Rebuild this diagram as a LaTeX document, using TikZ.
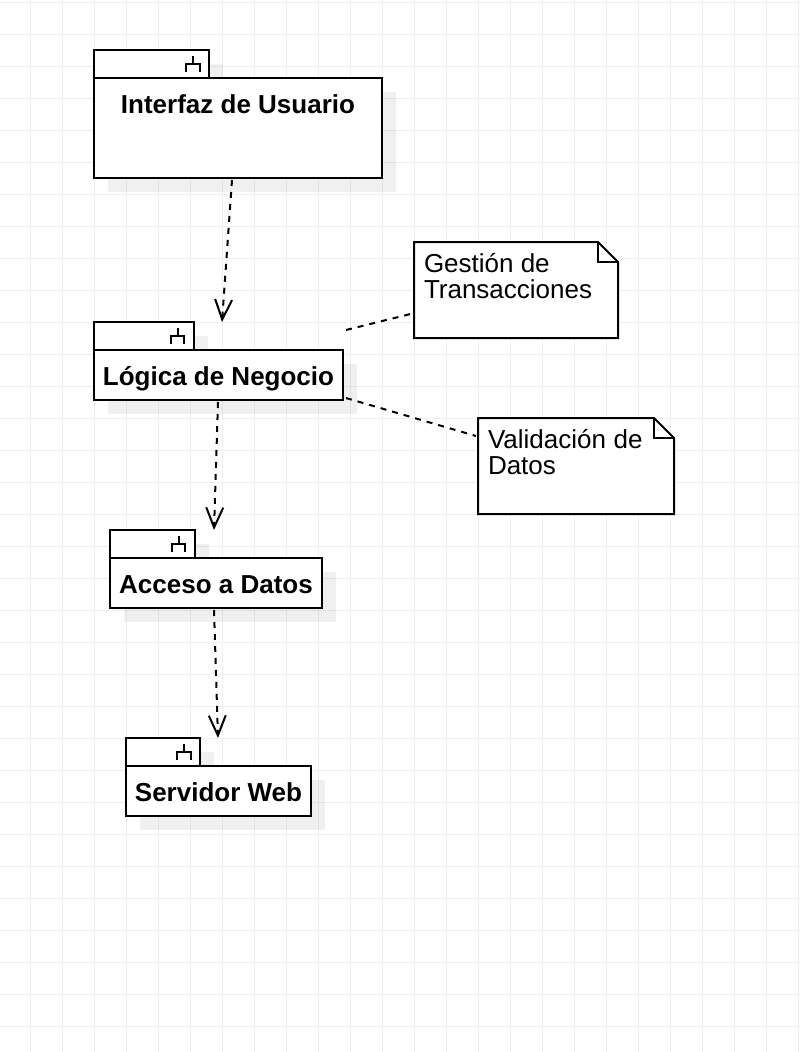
\documentclass[tikz,border=0pt]{standalone}
\usepackage{fontspec}
\setmainfont{Liberation Sans}
\usetikzlibrary{arrows.meta}
\pgfdeclarelayer{gridlayer}
\pgfdeclarelayer{notelayer}
\pgfsetlayers{gridlayer,notelayer,main}
\definecolor{gridgray}{RGB}{240,240,240}
\tikzset{
  gridline/.style={draw=gridgray,line width=1pt},
  tabbox/.style={draw=black,fill=white,line width=2pt,inner sep=0pt,outer sep=0pt,anchor=north west,minimum height=28pt},
  bodybox/.style={draw=black,fill=white,line width=2pt,inner sep=0pt,outer sep=0pt,anchor=north west,
    font=\fontsize{26}{26}\selectfont\bfseries,text height=35pt},
  pkgshadow/.style={fill=black,fill opacity=0.06},
  pkgicon/.style={draw=black,line width=2pt},
  notetext/.style={inner sep=0pt,inner xsep=10pt,outer sep=0pt,anchor=north west,align=left,
    font=\fontsize{26}{26}\selectfont},
  noteline/.style={draw=black,line width=2pt,miter limit=10},
  depends/.style={draw=black,line width=2pt,dash pattern=on 6pt off 6pt,
    -{Straight Barb[length=20pt,width=17pt,line width=2pt]}},
  noteconn/.style={draw=black,line width=2pt,dash pattern=on 6pt off 6pt},
}
\newcommand{\pkgbox}[8]{%
  % #1 name, #2 x, #3 y of tab top, #4 tab width, #5 body width, #6 body height, #7 text depth, #8 text
  \node[tabbox,minimum width=#4pt] (#1tab) at (#2,#3) {};
  \node[bodybox,minimum width=#5pt,minimum height=#6pt,text depth=#7pt] (#1) at (#2,#3+28) {#8};
  \begin{pgfonlayer}{notelayer}
    \fill[pkgshadow] ([shift={(14,14)}]#1tab.north west) rectangle ([shift={(14,0)}]#1tab.south east);
    \fill[pkgshadow] ([shift={(14,14)}]#1.north west) rectangle ([shift={(14,14)}]#1.south east);
  \end{pgfonlayer}
  \draw[pkgicon] ([shift={(-22.7,21.7)}]#1tab.north east) -- ([shift={(-22.7,14)}]#1tab.north east) -- ([shift={(-9.3,14)}]#1tab.north east) -- ([shift={(-9.3,21.7)}]#1tab.north east);
  \draw[pkgicon] ([shift={(-16,14)}]#1tab.north east) -- ([shift={(-16,6.3)}]#1tab.north east);
}
\newcommand{\notebox}[1]{%
  \begin{pgfonlayer}{notelayer}
    \path[noteline,fill=white] (#1.north west) -- ([shift={(-20,0)}]#1.north east) -- ([shift={(0,20)}]#1.north east) -- (#1.south east) -- (#1.south west) -- cycle;
  \end{pgfonlayer}
  \draw[noteline] ([shift={(-20,0)}]#1.north east) -- ([shift={(-20,20)}]#1.north east) -- ([shift={(0,20)}]#1.north east);
}
\begin{document}
\begin{tikzpicture}[x=1pt,y=-1pt]
\useasboundingbox (0,0) rectangle (800,1052);
\begin{pgfonlayer}{gridlayer}
  \fill[white] (0,0) rectangle (800,1052);
  \foreach \gx in {0,...,25} {\draw[gridline] ({30.5+32*\gx-32},0) -- ({30.5+32*\gx-32},1052);}
  \foreach \gy in {0,...,32} {\draw[gridline] (0,{2+32*\gy}) -- (800,{2+32*\gy});}
\end{pgfonlayer}

\pkgbox{iface}{94}{50}{115}{288}{100}{65}{Interfaz de Usuario}
\pkgbox{logic}{94}{322}{99.5}{249}{50}{15}{Lógica de Negocio}
\pkgbox{data}{110}{530}{84.5}{212}{50}{15}{Acceso a Datos}
\pkgbox{web}{126}{738}{74}{185}{50}{15}{Servidor Web}

\node[notetext,text width=184pt] (noteA) at (414,242) {\rule{0pt}{30pt}Gestión\hspace{-1.5pt} de\\Transacciones\rule[-40pt]{0pt}{40pt}};
\notebox{noteA}
\node[notetext,text width=176pt] (noteB) at (478,418) {\rule{0pt}{30pt}Validación\hspace{-1pt} de\\Datos\rule[-40pt]{0pt}{40pt}};
\notebox{noteB}

\draw[depends] ([shift={(-6,2)}]iface.south) -- ([shift={(3.5,-28)}]logic.north);
\draw[depends] ([shift={(-0.5,2)}]logic.south) -- ([shift={(-2,-28)}]data.north);
\draw[depends] ([shift={(-2,2)}]data.south) -- ([shift={(-0.5,-28)}]web.north);
\draw[noteconn] ([shift={(3,-20)}]logic.north east) -- ([shift={(-3.5,72)}]noteA.north west);
\draw[noteconn] ([shift={(3,-2)}]logic.south east) -- ([shift={(-2,18)}]noteB.north west);
\end{tikzpicture}
\end{document}
